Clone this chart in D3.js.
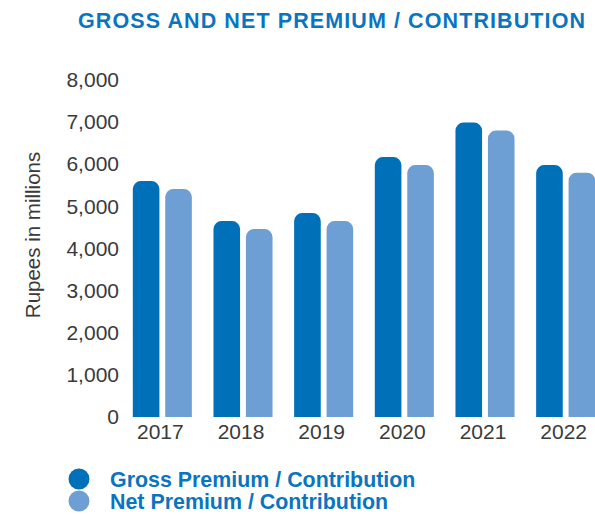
<!DOCTYPE html>
<html>
<head>
<meta charset="utf-8">
<script src="https://cdn.jsdelivr.net/npm/d3@7"></script>
<style>
  html, body { margin: 0; padding: 0; background: #fff; }
  svg { display: block; font-family: "Liberation Sans", Arial, Helvetica, sans-serif; }
</style>
</head>
<body>
<div id="chart"></div>
<script>
const years = ['2017', '2018', '2019', '2020', '2021', '2022'];
const grossPremium = [5600, 4650, 4840, 6170, 6990, 5980];
const netPremium = [5410, 4460, 4650, 5980, 6800, 5800];
const seriesNames = ['Gross Premium / Contribution', 'Net Premium / Contribution'];
const yTicks = [0, 1000, 2000, 3000, 4000, 5000, 6000, 7000, 8000];

const width = 595;
const height = 515;
const margin = {top: 80, bottom: 98, left: 122, right: -11};
const colors = ['#0070b9', '#6d9fd4'];
const blueText = '#0b74bf';

const svg = d3.select('#chart')
    .append('svg')
        .attr('width', width)
        .attr('height', height);

const tableData = years.map((y, i) => ({year: y, values: [grossPremium[i], netPremium[i]]}));

const x0 = d3.scaleBand()
    .domain(years)
    .range([margin.left, width - margin.right])
    .paddingInner(0.268)
    .paddingOuter(0.134);

const x1 = d3.scaleBand()
    .domain([0, 1])
    .range([0, x0.bandwidth()])
    .paddingInner(0.18);

const y = d3.scaleLinear()
    .domain([0, 8000])
    .range([height - margin.bottom, margin.top]);

// bars with rounded tops
function roundTop(x, yTop, w, h, r) {
    r = Math.min(r, w / 2, h);
    return `M${x},${yTop + h}V${yTop + r}A${r},${r} 0 0 1 ${x + r},${yTop}H${x + w - r}A${r},${r} 0 0 1 ${x + w},${yTop + r}V${yTop + h}Z`;
}

svg.append('g')
    .selectAll('g')
    .data(tableData)
    .join('g')
        .attr('transform', d => `translate(${x0(d.year)},0)`)
    .selectAll('path')
    .data(d => d.values.map((v, k) => ({k, v})))
    .join('path')
        .attr('fill', d => colors[d.k])
        .attr('d', d => roundTop(x1(d.k), y(d.v), x1.bandwidth(), y(0) - y(d.v), 8));

// axes
const yAxis = svg.append('g')
    .attr('transform', `translate(${margin.left},0)`)
    .call(d3.axisLeft(y).tickValues(yTicks).tickFormat(d3.format(',')).tickSize(0).tickPadding(3));
yAxis.select('.domain').remove();
yAxis.selectAll('text')
    .attr('font-size', 21)
    .attr('font-family', '"Liberation Sans", Arial, sans-serif')
    .attr('fill', '#3a3a3a');

const xAxis = svg.append('g')
    .attr('transform', `translate(-2,${height - margin.bottom})`)
    .call(d3.axisBottom(x0).tickSize(0).tickPadding(7));
xAxis.select('.domain').remove();
xAxis.selectAll('text')
    .attr('font-size', 21)
    .attr('font-family', '"Liberation Sans", Arial, sans-serif')
    .attr('fill', '#3a3a3a');

// y axis title
svg.append('text')
    .attr('transform', 'translate(40,235) rotate(-90)')
    .attr('text-anchor', 'middle')
    .attr('font-size', 20.5)
    .attr('fill', '#3a3a3a')
    .text('Rupees in millions');

// title
svg.append('text')
    .attr('x', 78)
    .attr('y', 28)
    .attr('font-size', 21.5)
    .attr('font-weight', 'bold')
    .attr('fill', blueText)
    .attr('textLength', 507)
    .attr('lengthAdjust', 'spacing')
    .text('GROSS AND NET PREMIUM / CONTRIBUTION');

// legend
const legend = svg.append('g')
    .selectAll('g')
    .data(seriesNames)
    .join('g')
        .attr('transform', (d, i) => `translate(79,${479 + i * 22})`);
legend.append('circle')
    .attr('r', 10.5)
    .attr('fill', (d, i) => colors[i]);
legend.append('text')
    .attr('x', 31)
    .attr('dy', '0.36em')
    .attr('font-size', 21.4)
    .attr('font-weight', 'bold')
    .attr('fill', blueText)
    .text(d => d);
</script>
</body>
</html>
